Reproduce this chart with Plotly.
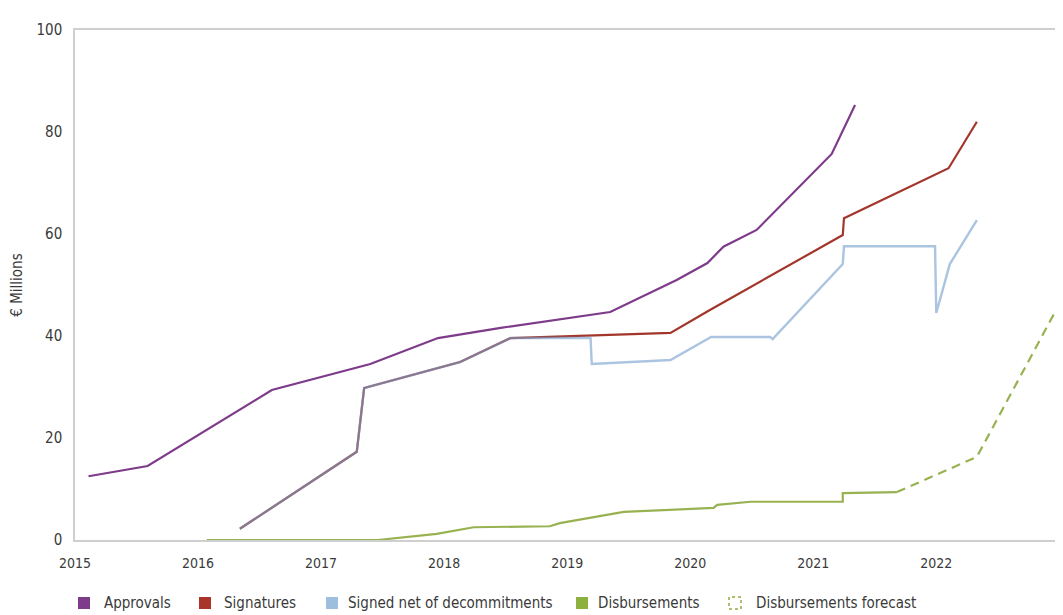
import plotly.graph_objects as go

# ---------------- data ----------------
approvals_x = [2015.11, 2015.59, 2016.60, 2017.40, 2017.95, 2018.46, 2019.35,
               2019.89, 2020.14, 2020.27, 2020.54, 2021.15, 2021.34]
approvals_y = [12.5, 14.5, 29.4, 34.5, 39.6, 41.6, 44.7,
               51.0, 54.3, 57.5, 60.8, 75.7, 85.3]

signatures_x = [2016.34, 2017.29, 2017.35, 2018.13, 2018.54, 2019.84, 2020.16,
                2021.24, 2021.25, 2022.10, 2022.33]
signatures_y = [2.2, 17.3, 29.8, 34.9, 39.6, 40.6, 45.1,
                59.8, 63.1, 72.9, 82.0]

net_x = [2016.34, 2017.29, 2017.35, 2018.13, 2018.54, 2019.19, 2019.20, 2019.84,
         2020.17, 2020.65, 2020.67, 2021.24, 2021.25, 2021.99, 2022.00, 2022.11, 2022.33]
net_y = [2.2, 17.3, 29.8, 34.9, 39.6, 39.6, 34.5, 35.3,
         39.8, 39.8, 39.4, 54.1, 57.6, 57.6, 44.5, 54.1, 62.7]

disb_x = [2016.07, 2017.46, 2017.94, 2018.24, 2018.86, 2018.94, 2019.46,
          2020.19, 2020.22, 2020.49, 2021.24, 2021.24, 2021.68]
disb_y = [0.0, 0.0, 1.2, 2.5, 2.7, 3.3, 5.5,
          6.3, 6.9, 7.5, 7.5, 9.2, 9.4]

forecast_x = [2021.68, 2022.33, 2023.03]
forecast_y = [9.4, 16.3, 47.6]

year_ticks = [2015, 2016, 2017, 2018, 2019, 2020, 2021, 2022]
value_ticks = [0, 20, 40, 60, 80, 100]

legend_names = ["Approvals", "Signatures", "Signed net of decommitments",
                "Disbursements", "Disbursements forecast"]

# ---------------- styling ----------------
PURPLE = "#7E3B8A"
RED = "#A3362B"
BLUE = "rgba(120,160,205,0.62)"
GREEN = "#98B252"
FONT = "Liberation Sans Narrow, DejaVu Sans Condensed, Roboto Condensed, sans-serif"
TEXT = "#3a3a3a"

# page body has an 8px default margin: figure is placed at (8, 8)
OFF = 8
W, H = 1063 - OFF, 615 - OFF
L, R, T, B = 75 - OFF, 0, 30 - OFF, 615 - 540

fig = go.Figure()
fig.add_trace(go.Scatter(x=approvals_x, y=approvals_y, mode="lines",
                         line=dict(color=PURPLE, width=2.2), name=legend_names[0],
                         showlegend=False))
fig.add_trace(go.Scatter(x=signatures_x, y=signatures_y, mode="lines",
                         line=dict(color=RED, width=2.2), name=legend_names[1],
                         showlegend=False))
fig.add_trace(go.Scatter(x=net_x, y=net_y, mode="lines",
                         line=dict(color=BLUE, width=2.4), name=legend_names[2],
                         showlegend=False))
fig.add_trace(go.Scatter(x=disb_x, y=disb_y, mode="lines",
                         line=dict(color=GREEN, width=2.2), name=legend_names[3],
                         showlegend=False))
fig.add_trace(go.Scatter(x=forecast_x, y=forecast_y, mode="lines",
                         line=dict(color=GREEN, width=2.2, dash="9px,6px"),
                         name=legend_names[4], showlegend=False))

# ---------------- custom legend (square swatches) ----------------
PW = W - L - R
PH = H - T - B


def px_x(px):
    return (px - OFF - L) / PW


def px_y(py):
    return (H - B - (py - OFF)) / PH


swatch_left = [78, 199, 326, 576, 729]
text_left = [102, 222, 346, 596, 754]
swatch_colors = [PURPLE, "#A8342A", "#9DBEDD", "#8DB03F", None]
leg_y = 603
shapes = []
annotations = []
for i, name in enumerate(legend_names):
    x0 = px_x(swatch_left[i])
    x1 = px_x(swatch_left[i] + 12)
    y0 = px_y(leg_y + 6)
    y1 = px_y(leg_y - 6)
    if swatch_colors[i] is not None:
        shapes.append(dict(type="rect", xref="paper", yref="paper",
                           x0=x0, x1=x1, y0=y0, y1=y1,
                           fillcolor=swatch_colors[i], line=dict(width=0)))
    else:
        shapes.append(dict(type="rect", xref="paper", yref="paper",
                           x0=x0, x1=x1, y0=y0, y1=y1,
                           fillcolor="rgba(0,0,0,0)",
                           line=dict(color="#A9C070", width=2, dash="dot")))
    annotations.append(dict(text=name, xref="paper", yref="paper",
                            x=px_x(text_left[i]), y=px_y(leg_y),
                            xanchor="left", yanchor="middle", showarrow=False,
                            font=dict(family=FONT, size=15, color=TEXT)))

fig.update_layout(
    width=W, height=H,
    margin=dict(l=L, r=R, t=T, b=B, pad=0),
    paper_bgcolor="white", plot_bgcolor="white",
    font=dict(family=FONT, size=14, color=TEXT),
    showlegend=False,
    shapes=shapes,
    annotations=annotations,
    xaxis=dict(range=[2015, 2023.03], tickvals=year_ticks,
               ticktext=[str(v) for v in year_ticks],
               showgrid=False, zeroline=False, showline=True, mirror=True,
               linecolor="#cfcfcf", linewidth=1.5, ticks="",
               ticklabelstandoff=9, tickfont=dict(family=FONT, size=14, color=TEXT)),
    yaxis=dict(range=[0, 100], tickvals=value_ticks,
               showgrid=False, zeroline=False, showline=True,
               linecolor="#cfcfcf", linewidth=1.5, ticks="",
               ticklabelstandoff=8, tickfont=dict(family=FONT, size=15, color=TEXT),
               title=dict(text="€ Millions", standoff=14,
                          font=dict(family=FONT, size=15, color=TEXT))),
)

fig.write_html("out.html")
